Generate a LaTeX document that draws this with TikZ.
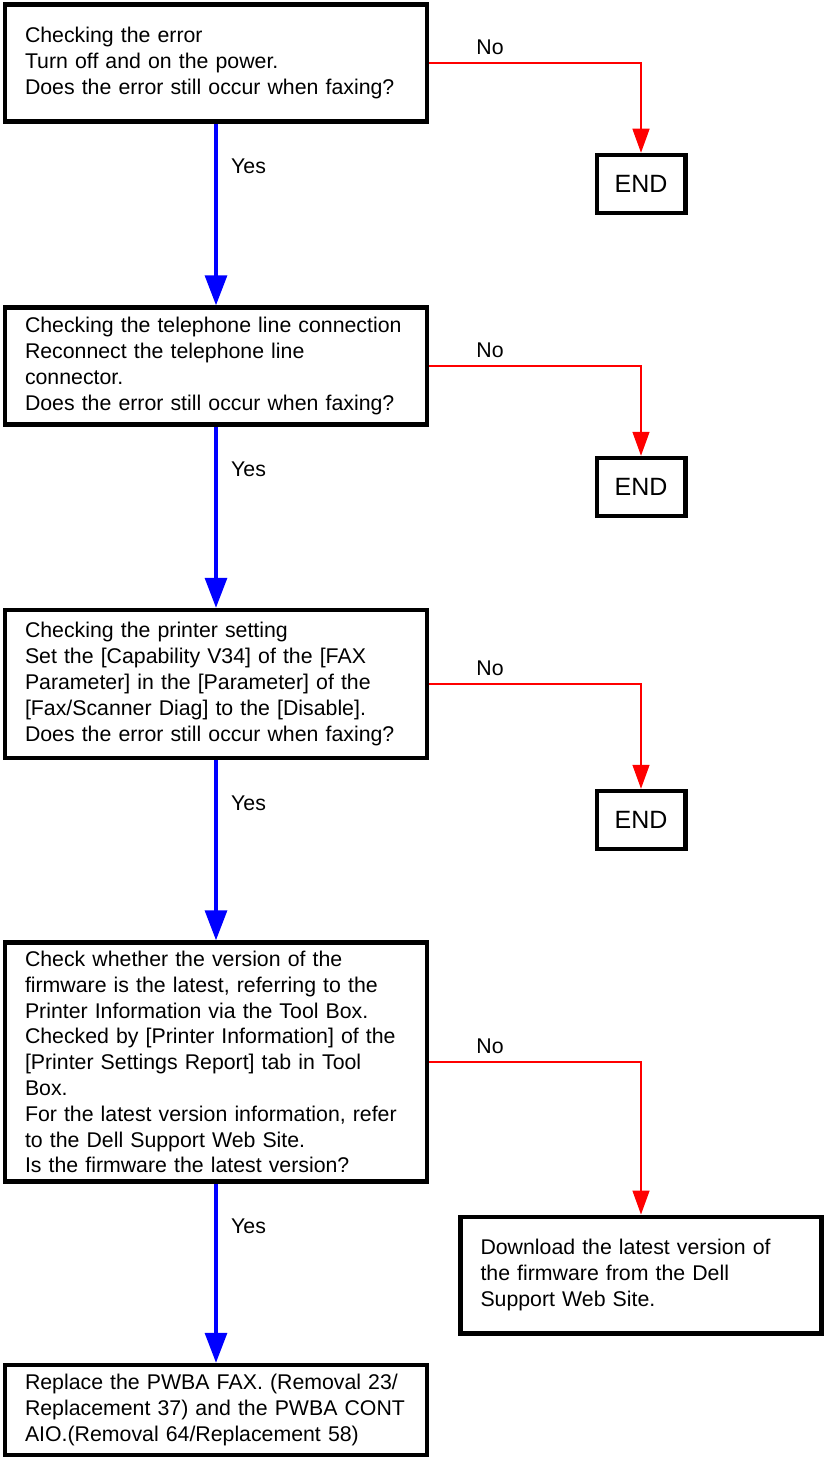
\documentclass[tikz,border=0pt]{standalone}
\usepackage{fontspec}
\setmainfont{Liberation Sans}
\usetikzlibrary{arrows.meta}

\begin{document}
\begin{tikzpicture}[x=1pt, y=-1pt,
    stepbox/.style={draw, rectangle, line width=4.5pt, inner xsep=20pt, inner ysep=2pt,
        text width=382pt, align=left, minimum width=422pt,
        font=\fontsize{21.3}{25.8}\selectfont},
    endbox/.style={draw, rectangle, line width=4.5pt, inner sep=0pt,
        minimum width=88.5pt, minimum height=58pt, font=\fontsize{25}{30}\selectfont},
    yesline/.style={blue, line width=3.3pt, -{Triangle[width=22pt,length=30pt]}},
    noline/.style={red, line width=1.4pt, -{Triangle[width=17pt,length=24pt]}},
    lbl/.style={inner sep=0pt, anchor=base west, font=\fontsize{21.3}{25.8}\selectfont}]
    \useasboundingbox (0,0) rectangle (826,1461);

    % steps down the left
    \node[stepbox, minimum height=117pt] (chkerr) at (216, 63)
        {Checking the error\\
         Turn off and on the power.\\
         Does the error still occur when faxing?};
    \node[stepbox, minimum height=117pt] (chkline) at (216, 366)
        {Checking the telephone line connection\\
         Reconnect the telephone line\\
         connector.\\
         Does the error still occur when faxing?};
    \node[stepbox, minimum height=148pt] (chkset) at (216, 684)
        {Checking the printer setting\\
         Set the [Capability V34] of the [FAX\\
         Parameter] in the [Parameter] of the\\
         {[}Fax/Scanner Diag] to the [Disable].\\
         Does the error still occur when faxing?};
    \node[stepbox, minimum height=239pt] (chkfw) at (216, 1062)
        {Check whether the version of the\\
         firmware is the latest, referring to the\\
         Printer Information via the Tool Box.\\
         Checked by [Printer Information] of the\\
         {[}Printer Settings Report] tab in Tool\\
         Box.\\
         For the latest version information, refer\\
         to the Dell Support Web Site.\\
         Is the firmware the latest version?};
    \node[stepbox, minimum height=90pt] (replace) at (216, 1410)
        {Replace the PWBA FAX. (Removal 23/\\
         Replacement 37) and the PWBA CONT\\
         AIO.(Removal 64/Replacement 58)};

    % outcomes on the right
    \node[endbox] (end1) at (641, 184) {END};
    \node[endbox] (end2) at (641, 487) {END};
    \node[endbox] (end3) at (641, 820) {END};
    \node[stepbox, text width=321pt, minimum width=361pt, minimum height=116.5pt]
        (download) at (641, 1275)
        {Download the latest version of\\
         the firmware from the Dell\\
         Support Web Site.};

    % no branches
    \draw[noline] (chkerr.east) -| (end1.north);
    \draw[noline] (chkline.east) -| (end2.north);
    \draw[noline] (chkset.east) -| (end3.north);
    \draw[noline] (chkfw.east) -| (download.north);
    \node[lbl] (no1) at ([shift={(47,-8.5)}]chkerr.east) {No};
    \node[lbl] (no2) at ([shift={(47,-8.5)}]chkline.east) {No};
    \node[lbl] (no3) at ([shift={(47,-8.5)}]chkset.east) {No};
    \node[lbl] (no4) at ([shift={(47,-8.5)}]chkfw.east) {No};

    % yes branches
    \draw[yesline] (chkerr.south) -- (chkline.north);
    \draw[yesline] (chkline.south) -- (chkset.north);
    \draw[yesline] (chkset.south) -- (chkfw.north);
    \draw[yesline] (chkfw.south) -- (replace.north);
    \node[lbl] (yes1) at ([shift={(15,50)}]chkerr.south) {Yes};
    \node[lbl] (yes2) at ([shift={(15,50)}]chkline.south) {Yes};
    \node[lbl] (yes3) at ([shift={(15,50)}]chkset.south) {Yes};
    \node[lbl] (yes4) at ([shift={(15,50)}]chkfw.south) {Yes};
\end{tikzpicture}
\end{document}
